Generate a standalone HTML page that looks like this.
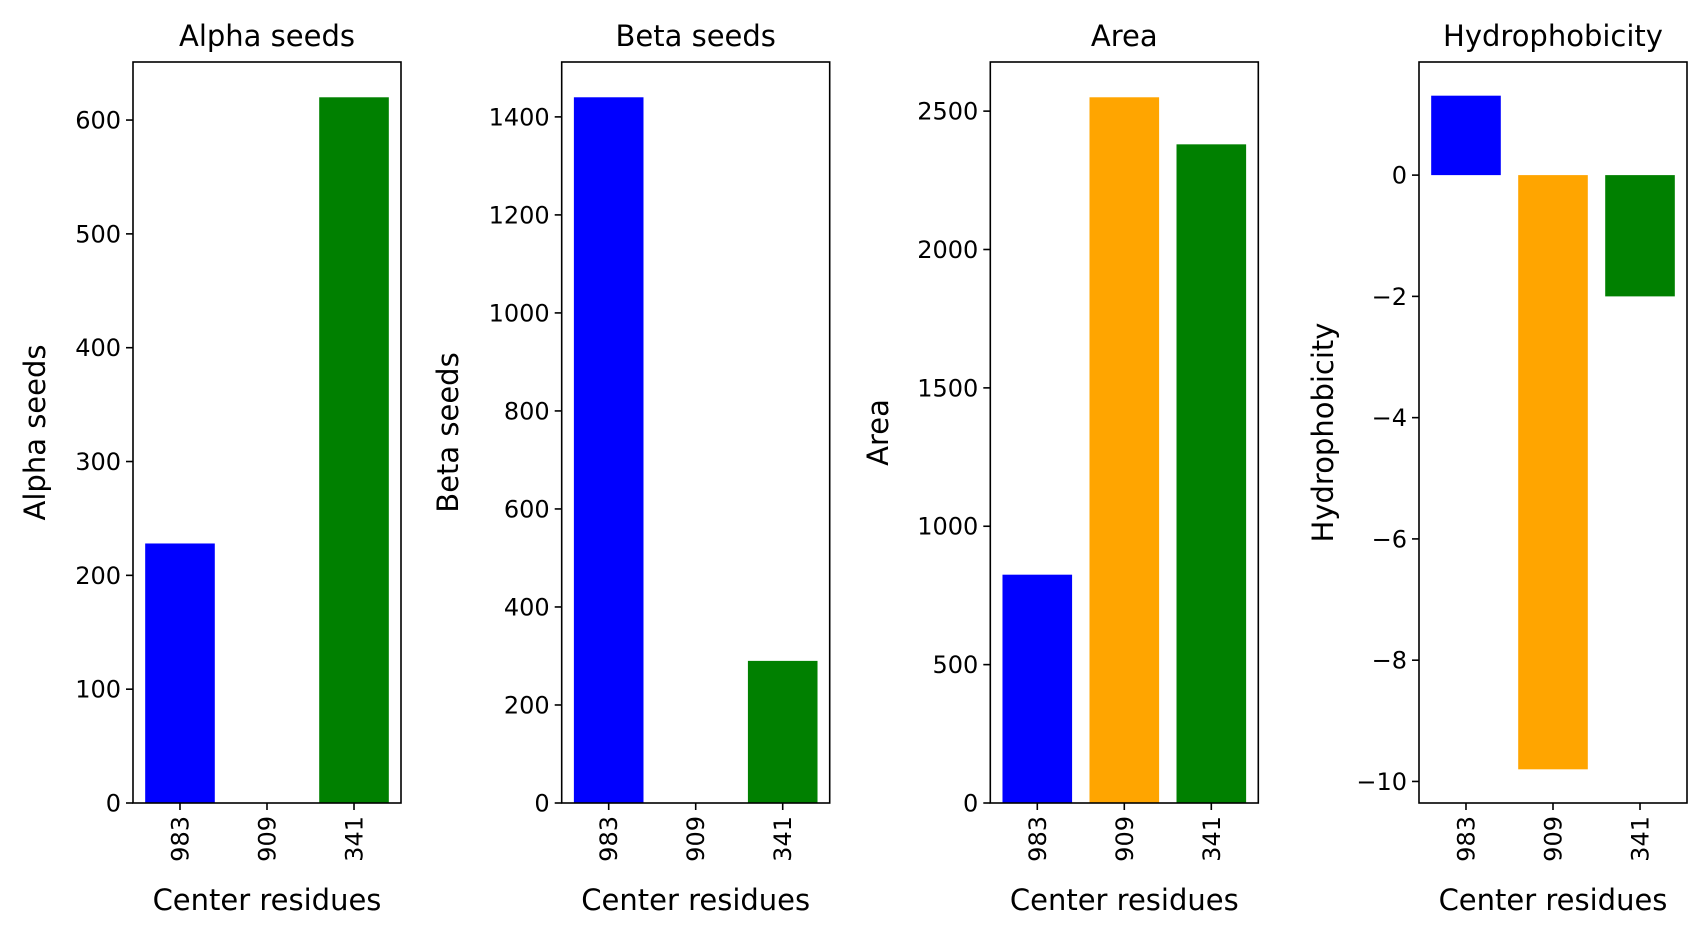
<!DOCTYPE html>
<html><head><meta charset="utf-8"><style>
body{margin:0;background:#fff}
svg text{font-family:"DejaVu Sans","Liberation Sans",sans-serif;fill:#000}
</style></head><body>
<svg id="chart" width="1706" height="937" viewBox="0 0 1706 937" xmlns="http://www.w3.org/2000/svg"></svg>
<script>
const categories = ["983","909","341"];
const colors = ["blue","orange","green"];
const alphaValues = [228, 0, 620];
const betaValues = [1440, 0, 290];
const areaValues = [825, 2550, 2380];
const hydroValues = [1.31, -9.8, -2.0];
const alphaTicks = [0,100,200,300,400,500,600];
const betaTicks = [0,200,400,600,800,1000,1200,1400];
const areaTicks = [0,500,1000,1500,2000,2500];
const hydroTicks = [0,-2,-4,-6,-8,-10];
const titles = ["Alpha seeds","Beta seeds","Area","Hydrophobicity"];

const panels = [
  {vals: alphaValues, ticks: alphaTicks, left: 133, ylabX: 35},
  {vals: betaValues, ticks: betaTicks, left: 561.7, ylabX: 448},
  {vals: areaValues, ticks: areaTicks, left: 990.3, ylabX: 878},
  {vals: hydroValues, ticks: hydroTicks, left: 1419, ylabX: 1323}
];
const svg = document.getElementById('chart');
const NS = 'http://www.w3.org/2000/svg';
function mk(tag, attrs, parent){const e=document.createElementNS(NS,tag);for(const k in attrs)e.setAttribute(k,attrs[k]);(parent||svg).appendChild(e);return e;}
const TOP=62, BOT=803, W=268;
panels.forEach((p,pi)=>{
  const g = mk('g',{});
  
  
  let mn=Math.min(0,...p.vals), mx=Math.max(0,...p.vals);
  const r=mx-mn; const y0=mn<0?mn-0.05*r:0; const y1=mx+0.05*r;
  const ys=v=>BOT-(v-y0)/(y1-y0)*(BOT-TOP);
  const xs=v=>p.left+(v+0.54)/3.08*W;
  p.vals.forEach((v,i)=>{
    const b=mk('rect',{x:xs(i-0.4),y:Math.min(ys(v),ys(0)),width:xs(0.4)-xs(-0.4),height:Math.abs(ys(v)-ys(0)),fill:colors[i]},g);
    
    
  });
  const fr=mk('rect',{x:p.left,y:TOP,width:W,height:BOT-TOP,fill:'none',stroke:'#000','stroke-width':1.6},g);
  
  
  p.ticks.forEach(t=>{
    const y=ys(t);
    mk('line',{x1:p.left-7,x2:p.left,y1:y,y2:y,stroke:'#000','stroke-width':1.6},g);
    const tx=mk('text',{x:p.left-12,y:y+8.5,'text-anchor':'end','font-size':24},g);
    tx.textContent=t<0?'\u2212'+Math.abs(t):String(t);
    
    
  });
  categories.forEach((c,i)=>{
    const x=xs(i);
    mk('line',{x1:x,x2:x,y1:BOT,y2:BOT+7,stroke:'#000','stroke-width':1.6},g);
    const tx=mk('text',{x:0,y:0,'text-anchor':'end','font-size':24,transform:`translate(${x+8.5},${BOT+13}) rotate(-90)`},g);
    tx.textContent=c;
    
    
  });
  const ti=mk('text',{x:p.left+W/2,y:46,'text-anchor':'middle','font-size':29},g);
  ti.textContent=titles[pi];
  
  
  const xl=mk('text',{x:p.left+W/2,y:910,'text-anchor':'middle','font-size':29},g);
  xl.textContent='Center residues';
  
  
  const yl=mk('text',{x:0,y:0,'text-anchor':'middle','font-size':29,transform:`translate(${p.ylabX+10},${(TOP+BOT)/2}) rotate(-90)`},g);
  yl.textContent=titles[pi];
  
  
});
</script>
</body></html>
